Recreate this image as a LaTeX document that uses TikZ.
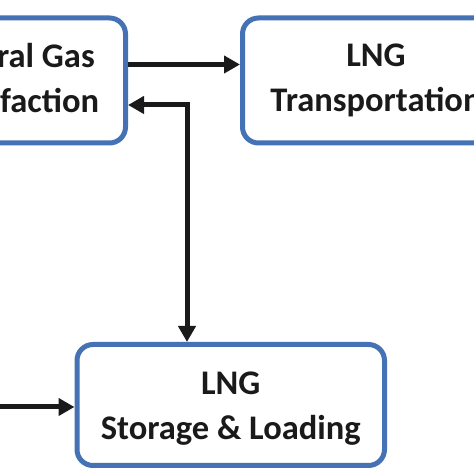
\documentclass[tikz,border=0pt]{standalone}
\usepackage{fontspec}
\setmainfont{Carlito}
\usetikzlibrary{arrows.meta}
\definecolor{boxblue}{RGB}{68,114,180}
\definecolor{ink}{RGB}{26,26,26}
\tikzset{
  procbox/.style={draw=boxblue, line width=5pt, rounded corners=16pt, fill=white,
    inner sep=0pt, align=center, text=ink,
    font=\fontsize{34.5}{45}\selectfont\bfseries},
  arr/.style={draw=ink, line width=5pt, -{Triangle[length=16pt,width=17pt]}},
  darr/.style={draw=ink, line width=5pt, {Triangle[length=16pt,width=17pt]}-{Triangle[length=16pt,width=17pt]}}
}
\begin{document}
\begin{tikzpicture}[x=1pt,y=1pt]
\useasboundingbox (0,0) rectangle (474,474);
\clip (0,0) rectangle (474,474);
\fill[white] (0,0) rectangle (474,474);
\node[procbox, minimum width=229pt, minimum height=125pt] (tl) at (11,393.5) {Natural Gas\\Liquefaction};
\node[procbox, minimum width=267pt, minimum height=125pt] (tr) at (376,393.5) {LNG\\Transportation};
\node[procbox, minimum width=307.5pt, minimum height=121pt] (bt) at (230.75,69) {\rule{0pt}{30pt}LNG\\Storage \& Loading};
\coordinate (r1) at (0,409.5);
\coordinate (r2) at (0,369);
\coordinate (vx) at (187,0);
\coordinate (lin) at (-10,67);
\draw[arr] (tl.east |- r1) -- (tr.west |- r1);
\draw[darr] (tl.east |- r2) -| (bt.north -| vx);
\draw[arr] (lin) -- (bt.west |- lin);
\end{tikzpicture}
\end{document}
